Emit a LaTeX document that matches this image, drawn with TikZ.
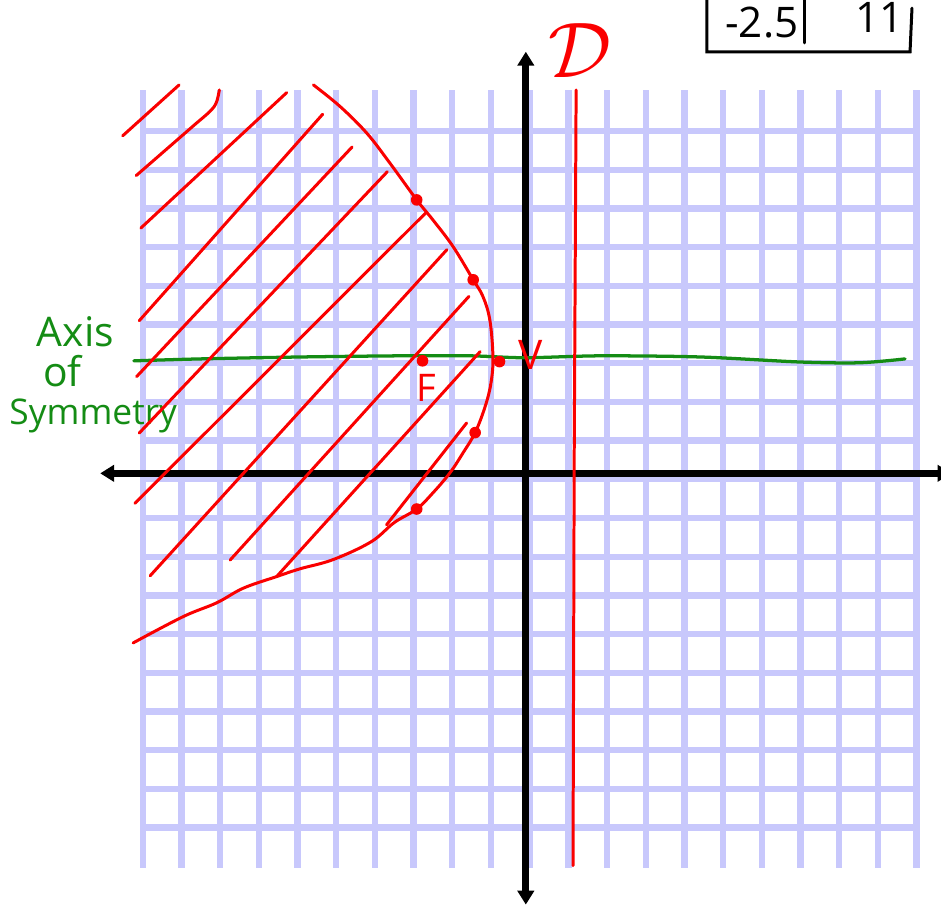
\documentclass[tikz,border=0pt]{standalone}
\usepackage{fontspec}
\setmainfont{Open Sans}
\usetikzlibrary{arrows.meta}
\definecolor{gridblue}{RGB}{200,200,252}
\definecolor{penred}{RGB}{250,0,0}
\definecolor{pengreen}{RGB}{20,140,20}
\begin{document}
\begin{tikzpicture}[x=1cm,y=0.9974cm,>={Triangle[length=0.36cm,width=0.42cm]},
  gridline/.style={draw=gridblue,line width=4.6pt,line cap=rect},
  axisline/.style={line width=5pt},
  redpen/.style={penred,line width=2.2pt,line cap=round,line join=round},
  greenpen/.style={pengreen,line width=2.4pt,line cap=round},
  boxline/.style={line width=2.2pt,line cap=round},
  hand/.style={inner sep=0pt,anchor=base},
  dot/.style={circle,fill=penred,inner sep=0pt,minimum size=0.3cm}]
\useasboundingbox (-13.69,-11.05) rectangle (10.63,12.42);
\draw[gridline] (-10,-10) grid (10,10);
% axes
\coordinate (XL) at (-11.10,0.155);
\coordinate (XR) at (10.90,0.155);
\coordinate (YB) at (-0.10,-11.02);
\coordinate (YT) at (-0.10,11.08);
\draw[axisline,<->] (XL) -- (XR);
\draw[axisline,<->] (YB) -- (YT);
% axis of symmetry
\draw[greenpen] plot[smooth,tension=0.5] coordinates {(-10.23,3.07) (-8.52,3.12) (-5.93,3.17)
  (-3.35,3.20) (-1.54,3.20) (-0.12,3.15) (1.82,3.20) (4.41,3.17) (6.98,3.04) (8.53,3.02) (9.70,3.12)};
\node[hand,pengreen,font=\fontsize{30}{30}\selectfont] (AX1) at (-11.74,3.43) {Axis};
\node[hand,pengreen,font=\fontsize{30}{30}\selectfont] (AX2) at (-12.08,2.40) {of};
\node[hand,pengreen,font=\fontsize{26}{26}\selectfont] (AX3) at (-11.28,1.41) {Symmetry};
% directrix
\draw[redpen] (1.20,10.09) -- (1.15,0.5) -- (1.12,-10.01);
\node[penred,inner sep=0pt] (D) at (1.30,11.12) {\scalebox{5.8}{$\mathcal{D}$}};
% shading
\draw[redpen] (-10.52,8.90) -- (-9.06,10.22);
\draw[redpen] (-10.17,7.87) -- (-8.60,9.24) .. controls (-8.10,9.66) .. (-8.02,10.09);
\draw[redpen] (-10.05,6.51) -- (-6.28,10.02);
\draw[redpen] (-10.09,4.11) -- (-5.35,9.46);
\draw[redpen] (-10.16,2.66) -- (-4.59,8.61);
\draw[redpen] (-10.09,1.20) -- (-3.68,7.97);
\draw[redpen] (-10.20,-0.62) -- (-2.68,6.91);
\draw[redpen] (-9.81,-2.50) -- (-2.14,5.95);
\draw[redpen] (-7.74,-2.09) -- (-1.57,4.74);
\draw[redpen] (-6.54,-2.52) -- (-1.28,3.31);
\draw[redpen] (-3.70,-1.18) -- (-1.63,1.46);
% parabola
\draw[redpen] plot[smooth,tension=0.6] coordinates {(-5.59,10.22) (-4.90,9.66) (-4.21,8.97)
  (-3.61,8.19) (-2.92,7.24) (-2.50,6.72) (-1.98,6.03) (-1.46,5.17) (-1.21,4.74) (-1.03,4.13)
  (-0.95,3.17) (-1.00,2.50) (-1.15,1.89) (-1.41,1.21) (-1.72,0.69) (-2.06,0.17) (-2.50,-0.35)
  (-2.92,-0.77) (-3.50,-1.12) (-4.10,-1.62) (-5.08,-2.08) (-5.94,-2.32) (-6.54,-2.52)
  (-7.40,-2.82) (-8.09,-3.20) (-8.96,-3.56) (-10.25,-4.24)};
\node[dot] (P1) at (-2.92,7.24) {};
\node[dot] (P2) at (-1.46,5.17) {};
\node[dot] (P3) at (-1.41,1.21) {};
\node[dot] (P4) at (-2.92,-0.77) {};
\node[dot] (FD) at (-2.77,3.07) {};
\node[dot] (VD) at (-0.78,3.05) {};
\node[hand,penred,font=\fontsize{28}{28}\selectfont] (F) at (-2.68,2.01) {F};
\node[hand,penred,font=\fontsize{30}{30}\selectfont] (V) at (0.03,2.84) {V};
% table
\draw[boxline] (4.58,12.6) -- (4.58,11.075) -- (9.83,11.075) -- (9.88,12.21);
\draw[boxline] (7.11,12.6) -- (7.11,11.31);
\node[hand,font=\fontsize{31}{31}\selectfont] (TP) at (6.00,11.46) {-2.5};
\node[hand,font=\fontsize{31}{31}\selectfont] (TQ) at (9.05,11.57) {11};
\end{tikzpicture}
\end{document}
